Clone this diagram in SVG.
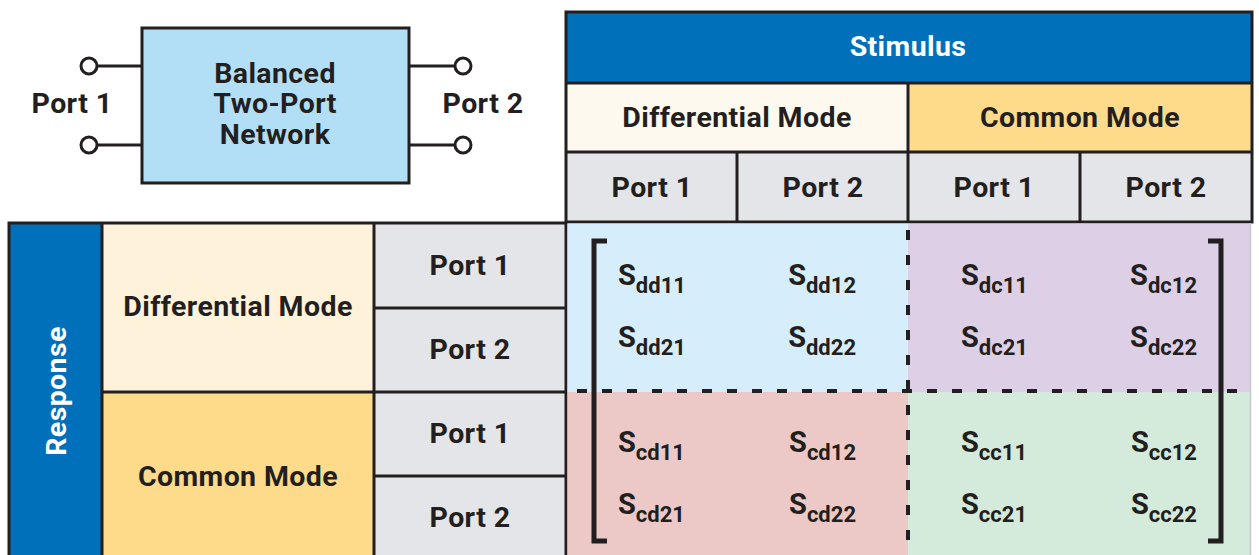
<svg xmlns="http://www.w3.org/2000/svg" width="1259" height="555" viewBox="0 0 1259 555">
<style>
text{font-family:Roboto,"Liberation Sans",sans-serif;font-weight:700;fill:#231F20}
.lbl{font-size:28.5px;letter-spacing:0.4px;text-anchor:middle}
.wh{fill:#FFFFFF}
.ln{stroke:#231F20;stroke-width:3;fill:none}
.dash{stroke:#231F20;stroke-width:4;stroke-dasharray:10 15;fill:none}
.br{stroke:#231F20;stroke-width:5;fill:none}
.s{font-size:29px}
.sub{font-size:22px}
.term{fill:#FFFFFF;stroke:#231F20;stroke-width:3}
</style>
<rect width="1259" height="555" fill="#FFFFFF"/>

<g id="network">
  <line class="ln" x1="97" y1="66" x2="142" y2="66"/>
  <line class="ln" x1="97" y1="145" x2="142" y2="145"/>
  <line class="ln" x1="409" y1="66" x2="455" y2="66"/>
  <line class="ln" x1="409" y1="145" x2="455" y2="145"/>
  <circle class="term" cx="89" cy="66" r="8"/>
  <circle class="term" cx="89" cy="145" r="8"/>
  <circle class="term" cx="463" cy="66" r="8"/>
  <circle class="term" cx="463" cy="145" r="8"/>
  <rect x="142" y="28" width="267" height="155" fill="#B3DFF6" stroke="#231F20" stroke-width="3"/>
  <text class="lbl" x="275" y="83">Balanced</text>
  <text class="lbl" x="275" y="113">Two-Port</text>
  <text class="lbl" x="275" y="144">Network</text>
  <text class="lbl" x="72" y="113">Port 1</text>
  <text class="lbl" x="483" y="113">Port 2</text>
</g>

<g id="stimulus-header">
  <rect x="566" y="12" width="686" height="71" fill="#0070BA"/>
  <rect x="566" y="83" width="342" height="69" fill="#FEF9EE"/>
  <rect x="908" y="83" width="344" height="69" fill="#FDDB8B"/>
  <rect x="566" y="152" width="686" height="70" fill="#E4E5E9"/>
  <text class="lbl wh" x="908" y="56">Stimulus</text>
  <text class="lbl" x="737" y="127">Differential Mode</text>
  <text class="lbl" x="1080" y="127">Common Mode</text>
  <text class="lbl" x="652" y="197">Port 1</text>
  <text class="lbl" x="823" y="197">Port 2</text>
  <text class="lbl" x="994" y="197">Port 1</text>
  <text class="lbl" x="1166" y="197">Port 2</text>
  <rect class="ln" x="566" y="12" width="686" height="210"/>
  <line class="ln" x1="566" y1="83" x2="1252" y2="83"/>
  <line class="ln" x1="566" y1="152" x2="1252" y2="152"/>
  <line class="ln" x1="908" y1="83" x2="908" y2="222"/>
  <line class="ln" x1="737" y1="152" x2="737" y2="222"/>
  <line class="ln" x1="1080" y1="152" x2="1080" y2="222"/>
</g>

<g id="response-header">
  <rect x="9" y="223" width="93" height="340" fill="#0070BA"/>
  <rect x="102" y="223" width="272" height="169" fill="#FFF2DB"/>
  <rect x="102" y="392" width="272" height="171" fill="#FDDB8B"/>
  <rect x="374" y="223" width="192" height="340" fill="#E4E5E9"/>
  <text class="lbl wh" transform="translate(66 391) rotate(-90)" x="0" y="0">Response</text>
  <text class="lbl" x="238" y="316">Differential Mode</text>
  <text class="lbl" x="238" y="486">Common Mode</text>
  <text class="lbl" x="470" y="275">Port 1</text>
  <text class="lbl" x="470" y="359">Port 2</text>
  <text class="lbl" x="470" y="443">Port 1</text>
  <text class="lbl" x="470" y="527">Port 2</text>
  <rect class="ln" x="9" y="223" width="557" height="340"/>
  <line class="ln" x1="102" y1="223" x2="102" y2="563"/>
  <line class="ln" x1="374" y1="223" x2="374" y2="563"/>
  <line class="ln" x1="102" y1="392" x2="566" y2="392"/>
  <line class="ln" x1="374" y1="308" x2="566" y2="308"/>
  <line class="ln" x1="374" y1="476" x2="566" y2="476"/>
</g>

<g id="matrix">
  <rect x="567.5" y="223.5" width="340.5" height="168.5" fill="#D6EEFB"/>
  <rect x="908" y="223.5" width="342" height="168.5" fill="#DDCFE6"/>
  <rect x="567.5" y="392" width="340.5" height="163" fill="#ECC9C6"/>
  <rect x="908" y="392" width="342" height="163" fill="#D4EBDC"/>
  <line x1="1250.5" y1="223" x2="1250.5" y2="555" stroke="#C8C8CC" stroke-width="1.5"/>
  <text class="s" x="618" y="285">S<tspan class="sub" dy="8">dd11</tspan></text>
  <text class="s" x="856" y="285" text-anchor="end">S<tspan class="sub" dy="8">dd12</tspan></text>
  <text class="s" x="961" y="285">S<tspan class="sub" dy="8">dc11</tspan></text>
  <text class="s" x="1197" y="285" text-anchor="end">S<tspan class="sub" dy="8">dc12</tspan></text>
  <text class="s" x="618" y="347">S<tspan class="sub" dy="8">dd21</tspan></text>
  <text class="s" x="856" y="347" text-anchor="end">S<tspan class="sub" dy="8">dd22</tspan></text>
  <text class="s" x="961" y="347">S<tspan class="sub" dy="8">dc21</tspan></text>
  <text class="s" x="1197" y="347" text-anchor="end">S<tspan class="sub" dy="8">dc22</tspan></text>
  <text class="s" x="618" y="452">S<tspan class="sub" dy="8">cd11</tspan></text>
  <text class="s" x="856" y="452" text-anchor="end">S<tspan class="sub" dy="8">cd12</tspan></text>
  <text class="s" x="961" y="452">S<tspan class="sub" dy="8">cc11</tspan></text>
  <text class="s" x="1197" y="452" text-anchor="end">S<tspan class="sub" dy="8">cc12</tspan></text>
  <text class="s" x="618" y="514">S<tspan class="sub" dy="8">cd21</tspan></text>
  <text class="s" x="856" y="514" text-anchor="end">S<tspan class="sub" dy="8">cd22</tspan></text>
  <text class="s" x="961" y="514">S<tspan class="sub" dy="8">cc21</tspan></text>
  <text class="s" x="1197" y="514" text-anchor="end">S<tspan class="sub" dy="8">cc22</tspan></text>
</g>

<g id="connectors">
  <line class="dash" x1="577" y1="391" x2="1252" y2="391"/>
  <line class="dash" x1="908" y1="230" x2="908" y2="555"/>
  <path class="br" d="M607 241 H594 V541 H607"/>
  <path class="br" d="M1208 241 H1221 V541 H1208"/>
</g>
</svg>
